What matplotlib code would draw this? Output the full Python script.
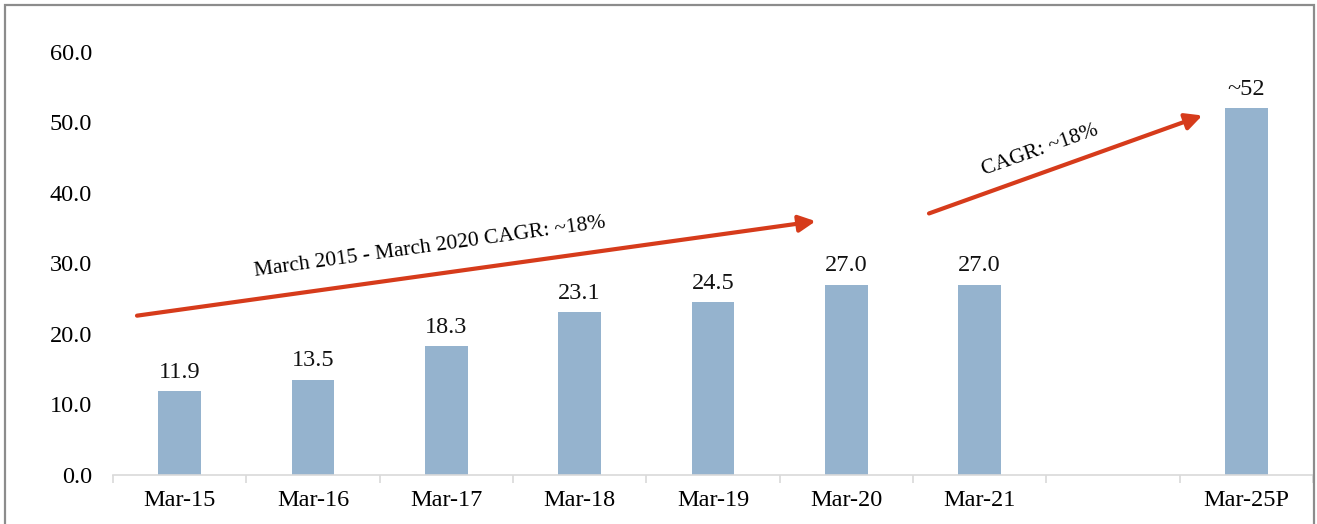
import matplotlib
matplotlib.use("Agg")
import matplotlib.pyplot as plt
from matplotlib.patches import Rectangle

categories = ["Mar-15", "Mar-16", "Mar-17", "Mar-18", "Mar-19", "Mar-20", "Mar-21", "", "Mar-25P"]
values = [11.9, 13.5, 18.3, 23.1, 24.5, 27.0, 27.0, None, 52.0]
value_labels = ["11.9", "13.5", "18.3", "23.1", "24.5", "27.0", "27.0", "", "~52"]
y_ticks = [0, 10, 20, 30, 40, 50, 60]

bar_color = "#95B3CE"
arrow_color = "#D63B1B"
axis_color = "#D9D9D9"

plt.rcParams["font.family"] = ["Liberation Serif", "DejaVu Serif"]

fig = plt.figure(figsize=(13.17, 5.24), dpi=100)
ax = fig.add_axes([113 / 1317, 1 - 475 / 524, 1200 / 1317, (475 - 52) / 524])

# outer frame
fig.patches.append(Rectangle((4.5 / 1317, -0.1), (1313.5 - 4.5) / 1317, 1.1 - 5.5 / 524,
                             transform=fig.transFigure, fill=False,
                             edgecolor="#8C8C8C", linewidth=1.6, zorder=0))

xs = list(range(len(categories)))
for x, v, lab in zip(xs, values, value_labels):
    if v is None:
        continue
    ax.bar(x, v, width=0.32, color=bar_color, zorder=2)
    ax.text(x, v + 1.2, lab, ha="center", va="bottom", fontsize=17.5, color="#111111")

ax.set_xlim(-0.5, len(categories) - 0.5)
ax.set_ylim(0, 60)
ax.set_yticks(y_ticks)
ax.set_yticklabels([f"{t:.1f}" for t in y_ticks], fontsize=17.5)
ax.set_xticks(xs)
ax.set_xticklabels(categories, fontsize=17.5)
ax.set_xticks([i - 0.5 for i in range(len(categories) + 1)], minor=True)
ax.tick_params(axis="x", which="major", length=0, pad=11)
ax.tick_params(axis="x", which="minor", length=6, color=axis_color, width=1.2)
ax.tick_params(axis="y", length=0, pad=15)

for side in ("top", "right", "left"):
    ax.spines[side].set_visible(False)
ax.spines["bottom"].set_color(axis_color)
ax.spines["bottom"].set_linewidth(1.2)

# growth arrows
arrow_style = dict(arrowstyle="-|>,head_length=1.0,head_width=0.5",
                   color=arrow_color, lw=3.0, shrinkA=0, shrinkB=0)
ax.annotate("", xy=(4.77, 36.0), xytext=(-0.32, 22.6),
            arrowprops=arrow_style, annotation_clip=False)
ax.annotate("", xy=(7.67, 51.0), xytext=(5.62, 37.1),
            arrowprops=arrow_style, annotation_clip=False)

ax.text(1.88, 32.3, "March 2015 - March 2020 CAGR: ~18%", fontsize=15.5,
        rotation=7.9, rotation_mode="anchor", ha="center", va="center")
ax.text(6.45, 46.0, "CAGR: ~18%", fontsize=15.5,
        rotation=19.5, rotation_mode="anchor", ha="center", va="center")

fig.savefig("out.png", dpi=100)
